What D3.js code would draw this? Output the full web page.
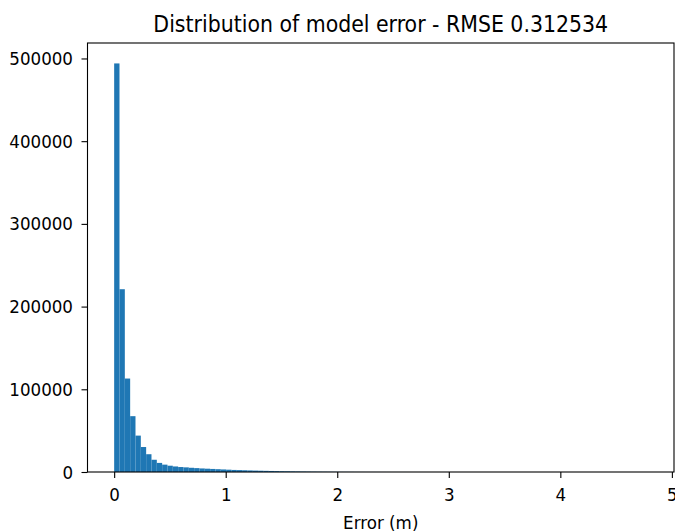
<!DOCTYPE html>
<html>
<head>
<meta charset="utf-8">
<script src="https://cdn.jsdelivr.net/npm/d3@7"></script>
<style>
  body { margin: 0; background: #fff; }
  svg { display: block; }
  text { font-family: "DejaVu Sans", sans-serif; fill: #000; }
</style>
</head>
<body>
<svg id="chart" width="675" height="532"></svg>
<script>
// ---- data ----
const titleText = "Distribution of model error - RMSE 0.312534";
const xLabel = "Error (m)";
const binStart = 0;
const binEnd = 4.78;
const counts = [
  494000, 221000, 113000, 67500, 44000, 30200, 21500, 14800, 11000, 8900,
  7600, 6700, 6000, 5600, 5100, 4700, 4300, 4000, 3700, 3400,
  3100, 2800, 2500, 2300, 2100, 1900, 1700, 1550, 1400, 1250,
  1100, 950, 850, 750, 650, 560, 480, 420, 360, 310,
  270, 230, 200, 170, 150, 120, 100, 80, 60, 50,
  40, 35, 30, 25, 22, 18, 15, 13, 11, 9,
  8, 7, 6, 5, 5, 4, 3, 3, 2, 2,
  2, 1, 1, 1, 1, 1, 1, 0, 1, 0,
  0, 1, 0, 0, 0, 0, 0, 0, 0, 0,
  0, 0, 0, 0, 0, 0, 0, 0, 0, 1
];
const xTicks = [0, 1, 2, 3, 4, 5];
const yTicks = [0, 100000, 200000, 300000, 400000, 500000];

// ---- layout ----
const svg = d3.select("#chart");
const mLeft = 87.5, mRight = 674, mTop = 43, mBottom = 472;
const nb = counts.length;
const bw = (binEnd - binStart) / nb;
const bins = counts.map((c, i) => ({ x0: binStart + i * bw, x1: binStart + (i + 1) * bw, c }));

const span = binEnd - binStart;
const x = d3.scaleLinear()
  .domain([binStart - 0.05 * span, binEnd + 0.05 * span])
  .range([mLeft, mRight]);
const y = d3.scaleLinear()
  .domain([0, 1.05 * d3.max(counts)])
  .range([mBottom, mTop]);

// bars
svg.append("g").selectAll("rect").data(bins).join("rect")
  .attr("x", d => x(d.x0))
  .attr("width", d => x(d.x1) - x(d.x0))
  .attr("y", d => y(d.c))
  .attr("height", d => y(0) - y(d.c))
  .attr("fill", "#1f77b4");

// axes
const stretch = 1.06;
const xAxis = d3.axisBottom(x).tickValues(xTicks).tickFormat(d3.format("d")).tickSize(6);
const yAxis = d3.axisLeft(y).tickValues(yTicks).tickFormat(d3.format("d")).tickSize(6);

const gx = svg.append("g").attr("transform", `translate(0,${mBottom})`).call(xAxis);
const gy = svg.append("g").attr("transform", `translate(${mLeft},0)`).call(yAxis);
[gx, gy].forEach(g => {
  g.select(".domain").remove();
  g.selectAll(".tick line").attr("stroke", "#000").attr("stroke-width", 1.1);
  g.selectAll(".tick text").attr("font-size", "16.7px").attr("fill", "#000")
    .style("font-family", "'DejaVu Sans', sans-serif")
    .attr("y", 0).attr("dy", 0).attr("x", 0);
});
gx.selectAll(".tick text").attr("transform", `translate(0,29) scale(1,${stretch})`);
gy.selectAll(".tick text").attr("transform", `translate(-14.5,6) scale(1,${stretch})`);

// frame
svg.append("rect")
  .attr("x", mLeft).attr("y", mTop)
  .attr("width", mRight - mLeft).attr("height", mBottom - mTop)
  .attr("fill", "none").attr("stroke", "#000").attr("stroke-width", 1.1);

// title
svg.append("text")
  .attr("transform", `translate(${(mLeft + mRight) / 2},32.3) scale(1,1.14)`)
  .attr("text-anchor", "middle")
  .attr("font-size", "20.5px")
  .text(titleText);

// x label
svg.append("text")
  .attr("transform", `translate(${(mLeft + mRight) / 2},528.5) scale(1,1.08)`)
  .attr("text-anchor", "middle")
  .attr("font-size", "16.7px")
  .text(xLabel);
</script>
</body>
</html>
